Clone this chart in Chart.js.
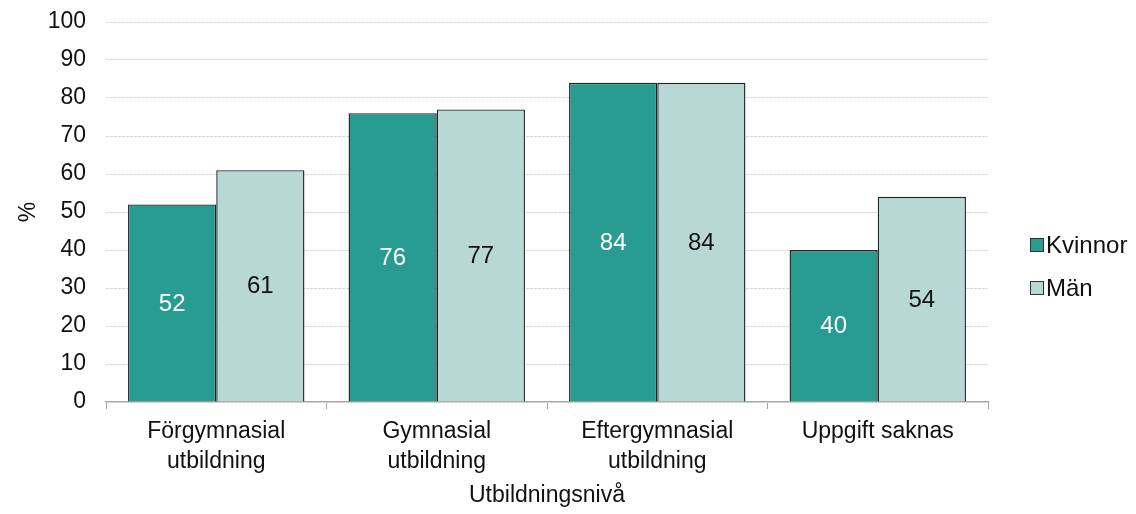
<!DOCTYPE html>
<html lang="sv">
<head>
  <meta charset="UTF-8">
  <title>Utbildningsnivå</title>
  <script src="https://cdn.jsdelivr.net/npm/chart.js"></script>
  <style>
    html, body { margin: 0; padding: 0; background: #fff; }
    .chart-container { width: 1136px; height: 514px; }
  </style>
</head>
<body>
  <div class="chart-container">
    <canvas id="chart"></canvas>
  </div>

  <script>
    const categories = [['Förgymnasial', 'utbildning'], ['Gymnasial', 'utbildning'], ['Eftergymnasial', 'utbildning'], 'Uppgift saknas'];
    const kvinnor = [52, 76, 84, 40];
    const man = [61, 77, 84, 54];
    const seriesNames = ['Kvinnor', 'Män'];
    const colors = ['#289C91', '#B8D8D5'];

    const FONT = 'Liberation Sans, Arial, sans-serif';
    const FS = 23;

    // draws the value in the middle of each bar
    const barLabels = {
      id: 'barLabels',
      afterDatasetsDraw(chart) {
        const ctx = chart.ctx;
        ctx.save();
        ctx.font = '24px ' + FONT;
        ctx.textAlign = 'center';
        ctx.textBaseline = 'middle';
        chart.data.datasets.forEach((ds, i) => {
          const meta = chart.getDatasetMeta(i);
          ctx.fillStyle = i === 0 ? '#ffffff' : '#111111';
          meta.data.forEach((bar, j) => {
            ctx.fillText(ds.data[j], bar.x, (bar.y + bar.base) / 2 + 1);
          });
        });
        ctx.restore();
      }
    };

    // simple legend on the right, small gap between box and text
    const sideLegend = {
      id: 'sideLegend',
      afterDraw(chart) {
        const ctx = chart.ctx;
        ctx.save();
        ctx.font = '24px ' + FONT;
        ctx.textBaseline = 'middle';
        chart.data.datasets.forEach((ds, i) => {
          const y = 245 + i * 43;
          ctx.fillStyle = ds.backgroundColor;
          ctx.fillRect(1030, y - 7, 14, 14);
          ctx.strokeStyle = '#333';
          ctx.lineWidth = 1;
          ctx.strokeRect(1030.5, y - 6.5, 13, 13);
          ctx.fillStyle = '#111';
          ctx.fillText(ds.label, 1046, y + 1);
        });
        ctx.restore();
      }
    };

    new Chart(document.getElementById('chart'), {
      type: 'bar',
      data: {
        labels: categories,
        datasets: [{
          label: seriesNames[0],
          data: kvinnor,
          backgroundColor: colors[0],
          borderColor: '#1a2524',
          borderWidth: 1.4
        }, {
          label: seriesNames[1],
          data: man,
          backgroundColor: colors[1],
          borderColor: '#1a2524',
          borderWidth: 1.4
        }]
      },
      options: {
        responsive: true,
        maintainAspectRatio: false,
        animation: false,
        datasets: { bar: { barPercentage: 1, categoryPercentage: 0.8 } },
        layout: { padding: { top: 22, left: 15, right: 148, bottom: 1 } },
        plugins: {
          legend: { display: false },
          tooltip: { enabled: false }
        },
        scales: {
          x: {
            afterFit(scale) { scale.height = 514 - 402 - 1; },
            grid: { offset: true, drawOnChartArea: false, drawTicks: true, tickLength: 7, color: '#a6a6a6' },
            border: { color: '#a6a6a6', width: 1.3 },
            ticks: { color: '#111', font: { family: FONT, size: FS, lineHeight: 1.3 }, maxRotation: 0, padding: 8 },
            title: { display: true, text: 'Utbildningsnivå', color: '#111', font: { family: FONT, size: FS }, padding: { top: 9 } }
          },
          y: {
            afterFit(scale) {
              scale.width = 106 - 15;
              scale.paddingTop = 0;
              scale.paddingBottom = 0;
            },
            min: 0,
            max: 100,
            ticks: { stepSize: 10, color: '#111', font: { family: FONT, size: FS }, padding: 20 },
            grid: { drawTicks: false, color: '#d6d6d6' },
            border: { display: false, dash: [3, 1] },
            title: { display: true, text: '%', color: '#111', font: { family: FONT, size: FS }, padding: 0 }
          }
        }
      },
      plugins: [barLabels, sideLegend]
    });
  </script>
</body>
</html>
